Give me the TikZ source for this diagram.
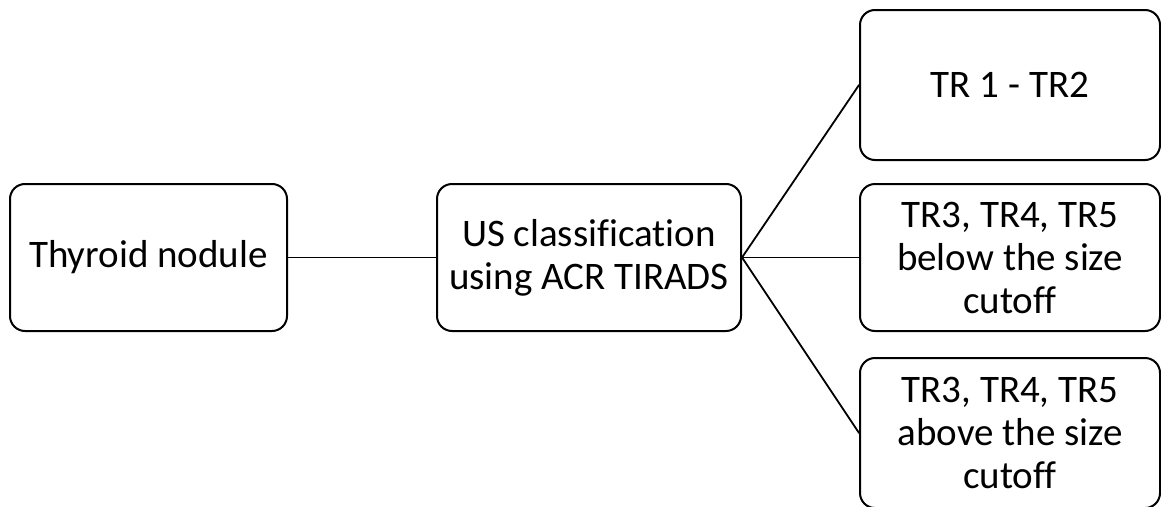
\documentclass[tikz,border=0pt]{standalone}
\usepackage{fontspec}
\setmainfont[Ligatures={NoCommon}]{Carlito}
\begin{document}
\begin{tikzpicture}[x=1pt, y=-1pt, line join=round, line cap=round,
  box/.style={draw, line width=2pt, rounded corners=15pt, align=center,
    font=\fontsize{39}{43}\selectfont, inner sep=0pt},
  link/.style={line width=1.8pt}]
\def\W{1161} \def\H{506}
\useasboundingbox (0,0) rectangle (\W,\H);
\begin{scope}
\clip (0,0) rectangle (\W,\H);
\node[box, minimum width=277pt, minimum height=147pt] (nodule) at (148.5,257.5) {Thyroid nodule};
\node[box, minimum width=304pt, minimum height=147pt] (us) at (589,257.5) {US classification\\using ACR TIRADS};
\node[box, minimum width=300pt, minimum height=150pt] (low) at (1010,85) {TR 1 - TR2};
\node[box, minimum width=300pt, minimum height=147pt] (below) at (1010,257.5) {TR3, TR4, TR5\\below the size\\cutoff};
\node[box, minimum width=300pt, minimum height=150pt] (above) at (1010,433) {TR3, TR4, TR5\\above the size\\cutoff};
\draw[link] (nodule.east)--(us.east-|us.west);
\draw[link] (us.east)--(low.west);
\draw[link] (us.east)--(below.west);
\draw[link] (us.east)--(above.west);
\end{scope}
\end{tikzpicture}
\end{document}
